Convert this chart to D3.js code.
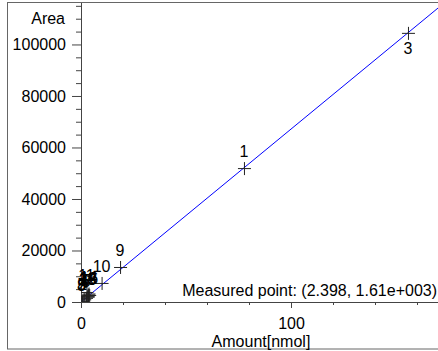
<!DOCTYPE html>
<html>
<head>
<meta charset="utf-8">
<script src="https://cdn.jsdelivr.net/npm/d3@7/dist/d3.min.js"></script>
<style>
  html, body { margin: 0; padding: 0; background: #fff; }
  svg { display: block; font-family: "Liberation Sans", Arial, sans-serif; }
</style>
</head>
<body>
<svg id="chart" width="438" height="351"></svg>
<script>
// Calibration standards: peak id, amount [nmol], peak area
const pointIds = ["1", "2", "3", "4", "5", "6", "7", "8", "9", "10", "11", "12", "13", "14", "15", "16"];
const amounts  = [77.6, 0.78, 155.7, 1.56, 0.39, 2.4, 3.1, 0.2, 18.6, 9.8, 2.6, 3.4, 3.0, 3.6, 3.2, 3.9];
const areas    = [52000, 520, 104500, 1050, 260, 1610, 2080, 130, 13600, 7400, 3900, 2900, 2500, 3300, 2200, 2700];
const labelBelow = [false, false, true, false, false, false, false, false, false, false, false, false, false, false, false, false];

// Calibration line through the origin
const fitSlope = 1610 / 2.398;
const measuredText = "Measured point: (2.398, 1.61e+003)";

// Axis ticks
const xMajorTicks = [0, 100];
const xMinorTicks = [20, 40, 60, 80, 120, 140, 160];
const yMajorTicks = [0, 20000, 40000, 60000, 80000, 100000];
const yMinorStep = 5000;
const xDomain = [0, 170];
const yDomain = [0, 116100];
const xTitle = "Amount[nmol]";
const yTitle = "Area";
const yTitleValue = 110000;
const xTitleValue = 85.7;

const svg = d3.select("#chart");
const plot = { left: 81, right: 438, top: 3, bottom: 302 };

const x = d3.scaleLinear().domain(xDomain).range([plot.left, plot.right]);
const y = d3.scaleLinear().domain(yDomain).range([plot.bottom, plot.top]);

// Outer frame
svg.append("rect")
  .attr("x", 7.5).attr("y", 2.5)
  .attr("width", 440).attr("height", 346.5)
  .attr("fill", "none").attr("stroke", "#666").attr("stroke-width", 1);

svg.append("defs").append("clipPath").attr("id", "plotClip")
  .append("rect")
  .attr("x", plot.left).attr("y", plot.top)
  .attr("width", plot.right - plot.left).attr("height", plot.bottom - plot.top);

const axisColor = "#444";
const fontSize = 16;

// Y axis
const yMinor = d3.range(0, yDomain[1], yMinorStep).filter(v => !yMajorTicks.includes(v));
const yAxisMajor = d3.axisLeft(y).tickValues(yMajorTicks).tickSize(9).tickPadding(6).tickFormat(d3.format("d"));
const yAxisMinor = d3.axisLeft(y).tickValues(yMinor).tickSize(5).tickFormat("");

const gyMinor = svg.append("g").attr("transform", `translate(${plot.left},0)`).call(yAxisMinor);
const gy = svg.append("g").attr("transform", `translate(${plot.left},0)`).call(yAxisMajor);
[gy, gyMinor].forEach(g => {
  g.select(".domain").remove();
  g.selectAll("line").attr("stroke", axisColor);
  g.selectAll("text").attr("font-size", fontSize).attr("fill", "#000")
    .attr("font-family", "Liberation Sans, Arial, sans-serif");
});
svg.append("line")
  .attr("x1", plot.left + 0.5).attr("x2", plot.left + 0.5)
  .attr("y1", plot.top).attr("y2", y(0) + 6)
  .attr("stroke", axisColor);

svg.append("text")
  .attr("x", plot.left - 16).attr("y", y(yTitleValue))
  .attr("dy", "0.35em").attr("text-anchor", "end")
  .attr("font-size", fontSize).text(yTitle);

// X axis
const xAxisMajor = d3.axisBottom(x).tickValues(xMajorTicks).tickSize(6).tickPadding(10).tickFormat(d3.format("d"));
const xAxisMinor = d3.axisBottom(x).tickValues(xMinorTicks).tickSize(3).tickFormat("");
const gxMinor = svg.append("g").attr("transform", `translate(0,${plot.bottom})`).call(xAxisMinor);
const gx = svg.append("g").attr("transform", `translate(0,${plot.bottom})`).call(xAxisMajor);
[gx, gxMinor].forEach(g => {
  g.select(".domain").remove();
  g.selectAll("line").attr("stroke", axisColor);
  g.selectAll("text").attr("font-size", fontSize).attr("fill", "#000")
    .attr("font-family", "Liberation Sans, Arial, sans-serif");
});
svg.append("line")
  .attr("x1", plot.left - 9).attr("x2", plot.right)
  .attr("y1", plot.bottom + 0.5).attr("y2", plot.bottom + 0.5)
  .attr("stroke", axisColor);

svg.append("text")
  .attr("x", x(xTitleValue)).attr("y", 347)
  .attr("text-anchor", "middle")
  .attr("font-size", fontSize).text(xTitle);

// Calibration line
const body = svg.append("g").attr("clip-path", "url(#plotClip)");
body.append("line")
  .attr("x1", x(0)).attr("y1", y(0))
  .attr("x2", x(xDomain[1])).attr("y2", y(fitSlope * xDomain[1]))
  .attr("stroke", "#0000ff").attr("stroke-width", 1);

// Measured point caption
svg.append("text")
  .attr("x", plot.right - 1).attr("y", plot.bottom - 6)
  .attr("text-anchor", "end")
  .attr("font-size", fontSize).text(measuredText);

// Standard points as "+" markers
const pts = pointIds.map((id, i) => ({ id, ax: amounts[i], ay: areas[i], below: labelBelow[i] }));
const arm = 6;
const markers = body.selectAll("g.pt").data(pts).join("g")
  .attr("class", "pt")
  .attr("transform", d => `translate(${x(d.ax)},${y(d.ay)})`);
markers.append("line").attr("x1", -arm).attr("x2", arm + 1).attr("y1", 0.5).attr("y2", 0.5)
  .attr("stroke", "#222");
markers.append("line").attr("x1", 0.5).attr("x2", 0.5).attr("y1", -arm).attr("y2", arm + 1)
  .attr("stroke", "#222");

svg.selectAll("text.ptlabel").data(pts).join("text")
  .attr("class", "ptlabel")
  .attr("x", d => x(d.ax))
  .attr("y", d => d.below ? y(d.ay) + 21 : y(d.ay) - 11)
  .attr("text-anchor", "middle")
  .attr("font-size", fontSize)
  .attr("fill", "#000")
  .text(d => d.id);
</script>
</body>
</html>
